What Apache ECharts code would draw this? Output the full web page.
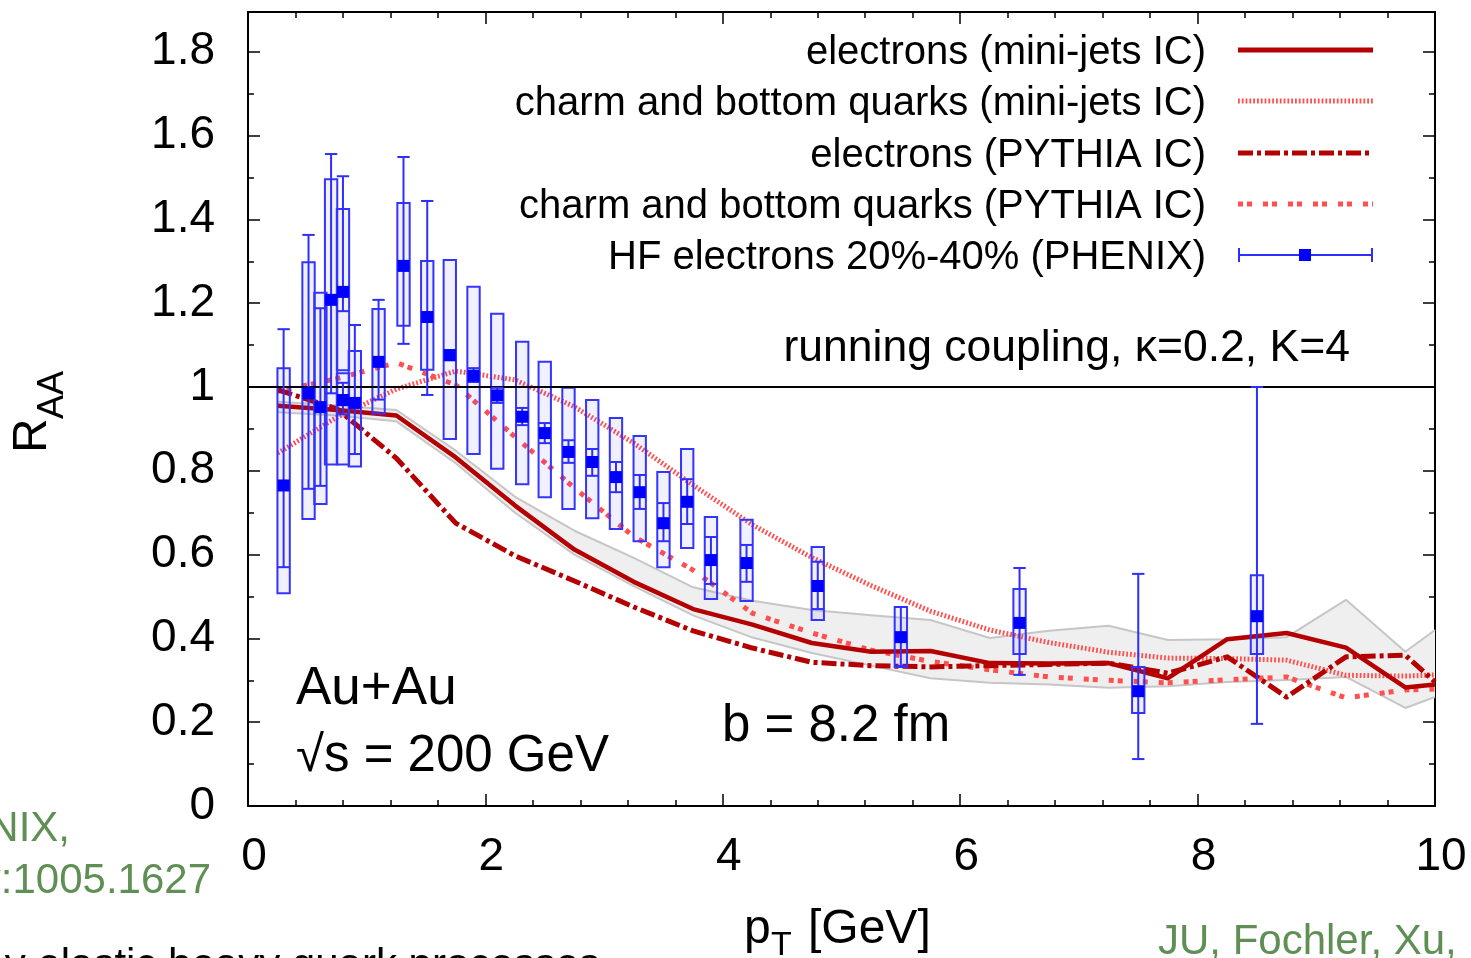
<!DOCTYPE html>
<html>
<head>
<meta charset="utf-8">
<script src="https://cdn.jsdelivr.net/npm/echarts@6/dist/echarts.min.js"></script>
<style>
  html, body { margin: 0; padding: 0; background: #fff; }
  #chart { width: 1471px; height: 958px; }
</style>
</head>
<body>
<div id="chart"></div>
<script>
const FONT = '"Liberation Sans", Arial, Helvetica, sans-serif';

// transport model output, pT bin centres in GeV
const modelPt = [0.25, 0.75, 1.25, 1.75, 2.25, 2.75, 3.25, 3.75, 4.25, 4.75, 5.25,
                 5.75, 6.25, 6.75, 7.25, 7.75, 8.25, 8.75, 9.25, 9.75, 10];
const elecMiniJets  = [0.955, 0.945, 0.932, 0.832, 0.717, 0.612, 0.535, 0.470, 0.433, 0.389, 0.368,
                       0.370, 0.341, 0.340, 0.341, 0.305, 0.398, 0.413, 0.378, 0.283, 0.290];
const quarkMiniJets = [0.842, 0.928, 0.995, 1.038, 1.017, 0.953, 0.866, 0.766, 0.671, 0.593, 0.526,
                       0.465, 0.420, 0.390, 0.367, 0.353, 0.352, 0.348, 0.312, 0.310, 0.313];
const elecPythia    = [0.993, 0.948, 0.830, 0.675, 0.597, 0.537, 0.475, 0.418, 0.377, 0.343, 0.335,
                       0.332, 0.335, 0.338, 0.341, 0.317, 0.356, 0.260, 0.356, 0.360, 0.296];
const quarkPythia   = [0.990, 1.020, 1.058, 1.005, 0.881, 0.759, 0.643, 0.563, 0.460, 0.413, 0.372,
                       0.345, 0.325, 0.308, 0.300, 0.294, 0.301, 0.308, 0.258, 0.277, 0.279];
// statistical spread of the mini-jets electron curve
const bandLow  = [0.940, 0.932, 0.918, 0.818, 0.700, 0.600, 0.525, 0.455, 0.402, 0.365, 0.335,
                  0.305, 0.294, 0.290, 0.282, 0.286, 0.296, 0.301, 0.308, 0.234, 0.260];
const bandHigh = [0.965, 0.956, 0.945, 0.848, 0.738, 0.657, 0.592, 0.522, 0.490, 0.468, 0.455,
                  0.444, 0.401, 0.418, 0.430, 0.396, 0.398, 0.403, 0.492, 0.368, 0.420];

// PHENIX heavy-flavour electrons, 20%-40% centrality
const phenixPt  = [0.30, 0.51, 0.61, 0.70, 0.80, 0.80, 0.90, 1.10, 1.31, 1.51, 1.70, 1.90, 2.10, 2.31,
                   2.50, 2.70, 2.90, 3.10, 3.30, 3.50, 3.70, 3.90, 4.20, 4.80, 5.50, 6.50, 7.50, 8.50];
const phenixRaa = [0.765, 0.985, 0.952, 1.208, 1.227, 0.969, 0.962, 1.060, 1.289, 1.167, 1.076, 1.027, 0.980, 0.929,
                   0.890, 0.845, 0.821, 0.785, 0.749, 0.675, 0.726, 0.587, 0.580, 0.525, 0.403, 0.437, 0.274, 0.453];
const statLow   = [0.570, 0.757, 0.764, 0.985, 1.181, 0.935, 0.840, 0.970, 1.103, 0.981, 1.064, 1.012, 0.962, 0.909,
                   0.866, 0.819, 0.788, 0.749, 0.709, 0.632, 0.673, 0.530, 0.535, 0.470, 0.334, 0.313, 0.112, 0.196];
const statHigh  = [1.138, 1.363, 1.188, 1.556, 1.503, 1.010, 1.148, 1.208, 1.549, 1.444, 1.088, 1.045, 0.998, 0.950,
                   0.914, 0.873, 0.852, 0.821, 0.790, 0.723, 0.780, 0.642, 0.623, 0.583, 0.475, 0.568, 0.554, 1.000];
const sysLow    = [0.508, 0.685, 0.721, 0.815, 1.040, 0.815, 0.810, 0.937, 1.146, 1.041, 0.876, 0.840, 0.805, 0.768,
                   0.737, 0.709, 0.687, 0.661, 0.632, 0.570, 0.616, 0.494, 0.489, 0.444, 0.332, 0.363, 0.222, 0.363];
const sysHigh   = [1.045, 1.298, 1.225, 1.496, 1.425, 1.033, 1.086, 1.186, 1.439, 1.301, 1.303, 1.239, 1.175, 1.108,
                   1.060, 0.998, 0.969, 0.926, 0.883, 0.797, 0.852, 0.690, 0.683, 0.618, 0.475, 0.518, 0.332, 0.551];

const xTickLabels = ['0', '2', '4', '6', '8', '10'];
const yTickLabels = ['0', '0.2', '0.4', '0.6', '0.8', '1', '1.2', '1.4', '1.6', '1.8'];
const legendLabels = [
  'electrons (mini-jets IC)',
  'charm and bottom quarks (mini-jets IC)',
  'electrons (PYTHIA IC)',
  'charm and bottom quarks (PYTHIA IC)',
  'HF electrons 20%-40% (PHENIX)'
];

const X_STEP = 2, Y_STEP = 0.2;
const DARK_RED = '#b40000';
const LIGHT_RED = '#ff5050';
const BLUE = '#0000ff';
const STYLE_SOLID = 'solid';
const STYLE_FINE_DOT = [1.8, 2];
const STYLE_DASH_DOT = [15, 4, 4, 4];
const STYLE_COARSE_DOT = [5, 4, 5, 11];

const pairs = (xs, ys) => xs.map((x, i) => [x, ys[i]]);
const phenixRows = phenixPt.map((x, i) => [x, phenixRaa[i], statLow[i], statHigh[i], sysLow[i], sysHigh[i]]);

const chart = echarts.init(document.getElementById('chart'), null, { renderer: 'canvas' });

function frameAxis(extra) {
  return Object.assign({
    type: 'value',
    axisLine: { show: true, onZero: false, lineStyle: { color: '#000', width: 2 } },
    axisTick: { show: true, inside: true, length: 12, lineStyle: { color: '#000', width: 1.5 } },
    minorTick: { show: true, length: 6, lineStyle: { color: '#000', width: 1.5 } },
    splitLine: { show: false },
    minorSplitLine: { show: false }
  }, extra);
}

const xLabelFmt = v => {
  const i = Math.round(v / X_STEP);
  return Math.abs(v - i * X_STEP) < 1e-6 && i < xTickLabels.length ? xTickLabels[i] : '';
};
const yLabelFmt = v => {
  const i = Math.round(v / Y_STEP);
  return Math.abs(v - i * Y_STEP) < 1e-6 && i < yTickLabels.length ? yTickLabels[i] : '';
};
const labelStyle = { fontFamily: FONT, fontSize: 46, color: '#000' };

// filled spread band between bandLow and bandHigh
function renderBand(params, api) {
  const upper = modelPt.map((x, i) => api.coord([x, bandHigh[i]]));
  const lower = modelPt.map((x, i) => api.coord([x, bandLow[i]])).reverse();
  return {
    type: 'polygon',
    shape: { points: upper.concat(lower) },
    style: { fill: '#efefef', stroke: null }
  };
}

// systematic uncertainty boxes
function renderBox(params, api) {
  const x = api.value(0);
  const lo = api.coord([x, api.value(4)]);
  const hi = api.coord([x, api.value(5)]);
  const w = api.size([0.104, 0])[0];
  return {
    type: 'rect',
    shape: { x: lo[0] - w / 2, y: hi[1], width: w, height: lo[1] - hi[1] },
    style: { fill: 'rgba(60,60,255,0.08)', stroke: '#3434ff', lineWidth: 2 }
  };
}

// statistical error bars with square markers
function renderErr(params, api) {
  const x = api.value(0);
  const c = api.coord([x, api.value(1)]);
  const lo = api.coord([x, api.value(2)]);
  const hi = api.coord([x, api.value(3)]);
  const w = api.size([0.104, 0])[0];
  const ls = { stroke: '#2e2eff', lineWidth: 2 };
  return {
    type: 'group',
    children: [
      { type: 'line', shape: { x1: c[0], y1: lo[1], x2: c[0], y2: hi[1] }, style: ls },
      { type: 'line', shape: { x1: c[0] - w / 2, y1: lo[1], x2: c[0] + w / 2, y2: lo[1] }, style: ls },
      { type: 'line', shape: { x1: c[0] - w / 2, y1: hi[1], x2: c[0] + w / 2, y2: hi[1] }, style: ls },
      { type: 'rect', shape: { x: c[0] - 6, y: c[1] - 6, width: 12, height: 12 }, style: { fill: BLUE } }
    ]
  };
}

function curve(name, ys, color, width, type, z) {
  return {
    name, type: 'line', data: pairs(modelPt, ys),
    showSymbol: false, symbol: 'none', smooth: false, z,
    lineStyle: { color, width, type, cap: 'butt', join: 'round' },
    emphasis: { disabled: true }, silent: true
  };
}

// legend, drawn as a key to the right of the entries
const legendRowY = [50, 101, 153, 204, 255];
const legendStyles = [
  { color: DARK_RED, width: 5, dash: null },
  { color: LIGHT_RED, width: 5, dash: STYLE_FINE_DOT },
  { color: DARK_RED, width: 5, dash: STYLE_DASH_DOT },
  { color: LIGHT_RED, width: 5, dash: STYLE_COARSE_DOT }
];
const graphics = [];
legendLabels.forEach((label, i) => {
  graphics.push({
    type: 'text', x: 1206, y: legendRowY[i] + 3, z: 100,
    style: { text: label, font: '40px ' + FONT, fill: '#000', align: 'right', verticalAlign: 'middle' }
  });
  if (i < legendStyles.length) {
    const s = legendStyles[i];
    graphics.push({
      type: 'line', z: 100,
      shape: { x1: 1238, y1: legendRowY[i], x2: 1373, y2: legendRowY[i] },
      style: { stroke: s.color, lineWidth: s.width, lineDash: s.dash, lineCap: 'butt' }
    });
  } else {
    const y = legendRowY[i];
    const ls = { stroke: '#2e2eff', lineWidth: 2 };
    graphics.push(
      { type: 'line', z: 100, shape: { x1: 1238, y1: y, x2: 1373, y2: y }, style: ls },
      { type: 'line', z: 100, shape: { x1: 1239, y1: y - 7, x2: 1239, y2: y + 7 }, style: ls },
      { type: 'line', z: 100, shape: { x1: 1372, y1: y - 7, x2: 1372, y2: y + 7 }, style: ls },
      { type: 'rect', z: 100, shape: { x: 1299, y: y - 6, width: 12, height: 12 }, style: { fill: BLUE } }
    );
  }
});

const textItems = [
  { text: 'running coupling, \u03ba=0.2, K=4', x: 1350, y: 349, size: 44.5, align: 'right', color: '#000' },
  { text: 'Au+Au', x: 296, y: 689, size: 53, align: 'left', color: '#000' },
  { text: '\u221as = 200 GeV', x: 296, y: 757, size: 51, align: 'left', color: '#000' },
  { text: 'b = 8.2 fm', x: 722, y: 727, size: 51, align: 'left', color: '#000' },
  { text: 'PHENIX,', x: 70, y: 829, size: 42, align: 'right', color: '#5f8f55' },
  { text: 'arXiv:1005.1627', x: 211, y: 881, size: 42, align: 'right', color: '#5f8f55' },
  { text: 'JU, Fochler, Xu,', x: 1158, y: 942, size: 42, align: 'left', color: '#5f8f55' },
  { text: 'y elastic heavy quark processes', x: 600, y: 966, size: 42, align: 'right', color: '#000' }
];
textItems.forEach(t => graphics.push({
  type: 'text', x: t.x, y: t.y, z: 100,
  style: { text: t.text, font: t.size + 'px ' + FONT, fill: t.color, align: t.align, verticalAlign: 'middle' }
}));

// axis titles
graphics.push(
  { type: 'text', x: 744, y: 930, z: 100,
    style: { text: 'p', font: '48px ' + FONT, fill: '#000', align: 'left', verticalAlign: 'middle' } },
  { type: 'text', x: 771, y: 946, z: 100,
    style: { text: 'T', font: '34px ' + FONT, fill: '#000', align: 'left', verticalAlign: 'middle' } },
  { type: 'text', x: 808, y: 930, z: 100,
    style: { text: '[GeV]', font: '48px ' + FONT, fill: '#000', align: 'left', verticalAlign: 'middle' } },
  { type: 'group', x: 33, y: 453, rotation: Math.PI / 2, z: 100,
    children: [
      { type: 'text', x: 0, y: 0,
        style: { text: 'R', font: '48px ' + FONT, fill: '#000', align: 'left', verticalAlign: 'middle' } },
      { type: 'text', x: 34, y: 20,
        style: { text: 'AA', font: '36px ' + FONT, fill: '#000', align: 'left', verticalAlign: 'middle' } }
    ] }
);

const option = {
  animation: false,
  backgroundColor: '#fff',
  grid: { left: 248, right: 36, top: 12, bottom: 152, containLabel: false, outerBoundsMode: 'none' },
  xAxis: [
    frameAxis({ position: 'bottom', min: 0, max: 10, interval: X_STEP,
      minorTick: { show: true, splitNumber: 5, length: 6, lineStyle: { color: '#000', width: 1.5 } },
      axisLabel: Object.assign({ margin: 28, formatter: xLabelFmt, padding: [0, 0, 0, 12] }, labelStyle) }),
    frameAxis({ position: 'top', min: 0, max: 10, interval: X_STEP,
      minorTick: { show: true, splitNumber: 5, length: 6, lineStyle: { color: '#000', width: 1.5 } },
      axisLabel: { show: false } })
  ],
  yAxis: [
    frameAxis({ position: 'left', min: 0, max: 1.895, interval: Y_STEP,
      minorTick: { show: true, splitNumber: 2, length: 6, lineStyle: { color: '#000', width: 1.5 } },
      axisLabel: Object.assign({ margin: 33, formatter: yLabelFmt, showMaxLabel: false }, labelStyle) }),
    frameAxis({ position: 'right', min: 0, max: 1.895, interval: Y_STEP,
      minorTick: { show: true, splitNumber: 2, length: 6, lineStyle: { color: '#000', width: 1.5 } },
      axisLabel: { show: false } })
  ],
  series: [
    {
      name: 'band', type: 'custom', z: 1, silent: true, clip: true,
      data: [[modelPt[0], bandLow[0]]], renderItem: renderBand
    },
    {
      name: 'band upper', type: 'line', data: pairs(modelPt, bandHigh), z: 2, silent: true,
      showSymbol: false, symbol: 'none', lineStyle: { color: '#c6c6c6', width: 2 },
      markLine: {
        silent: true, symbol: 'none', label: { show: false },
        lineStyle: { color: '#000', width: 2, type: 'solid' },
        data: [{ yAxis: 1 }]
      }
    },
    {
      name: 'band lower', type: 'line', data: pairs(modelPt, bandLow), z: 2, silent: true,
      showSymbol: false, symbol: 'none', lineStyle: { color: '#c6c6c6', width: 2 }
    },
    curve(legendLabels[3], quarkPythia, LIGHT_RED, 5, STYLE_COARSE_DOT, 3),
    curve(legendLabels[1], quarkMiniJets, LIGHT_RED, 5, STYLE_FINE_DOT, 3),
    curve(legendLabels[2], elecPythia, DARK_RED, 5, STYLE_DASH_DOT, 3),
    curve(legendLabels[0], elecMiniJets, DARK_RED, 4.5, STYLE_SOLID, 3),
    {
      name: 'sys', type: 'custom', z: 4, silent: true, clip: true,
      data: phenixRows, encode: { x: 0, y: [4, 5] }, renderItem: renderBox
    },
    {
      name: legendLabels[4], type: 'custom', z: 5, silent: true, clip: true,
      data: phenixRows, encode: { x: 0, y: [1, 2, 3] }, renderItem: renderErr
    }
  ],
  graphic: { elements: graphics }
};

chart.setOption(option);
</script>
</body>
</html>
